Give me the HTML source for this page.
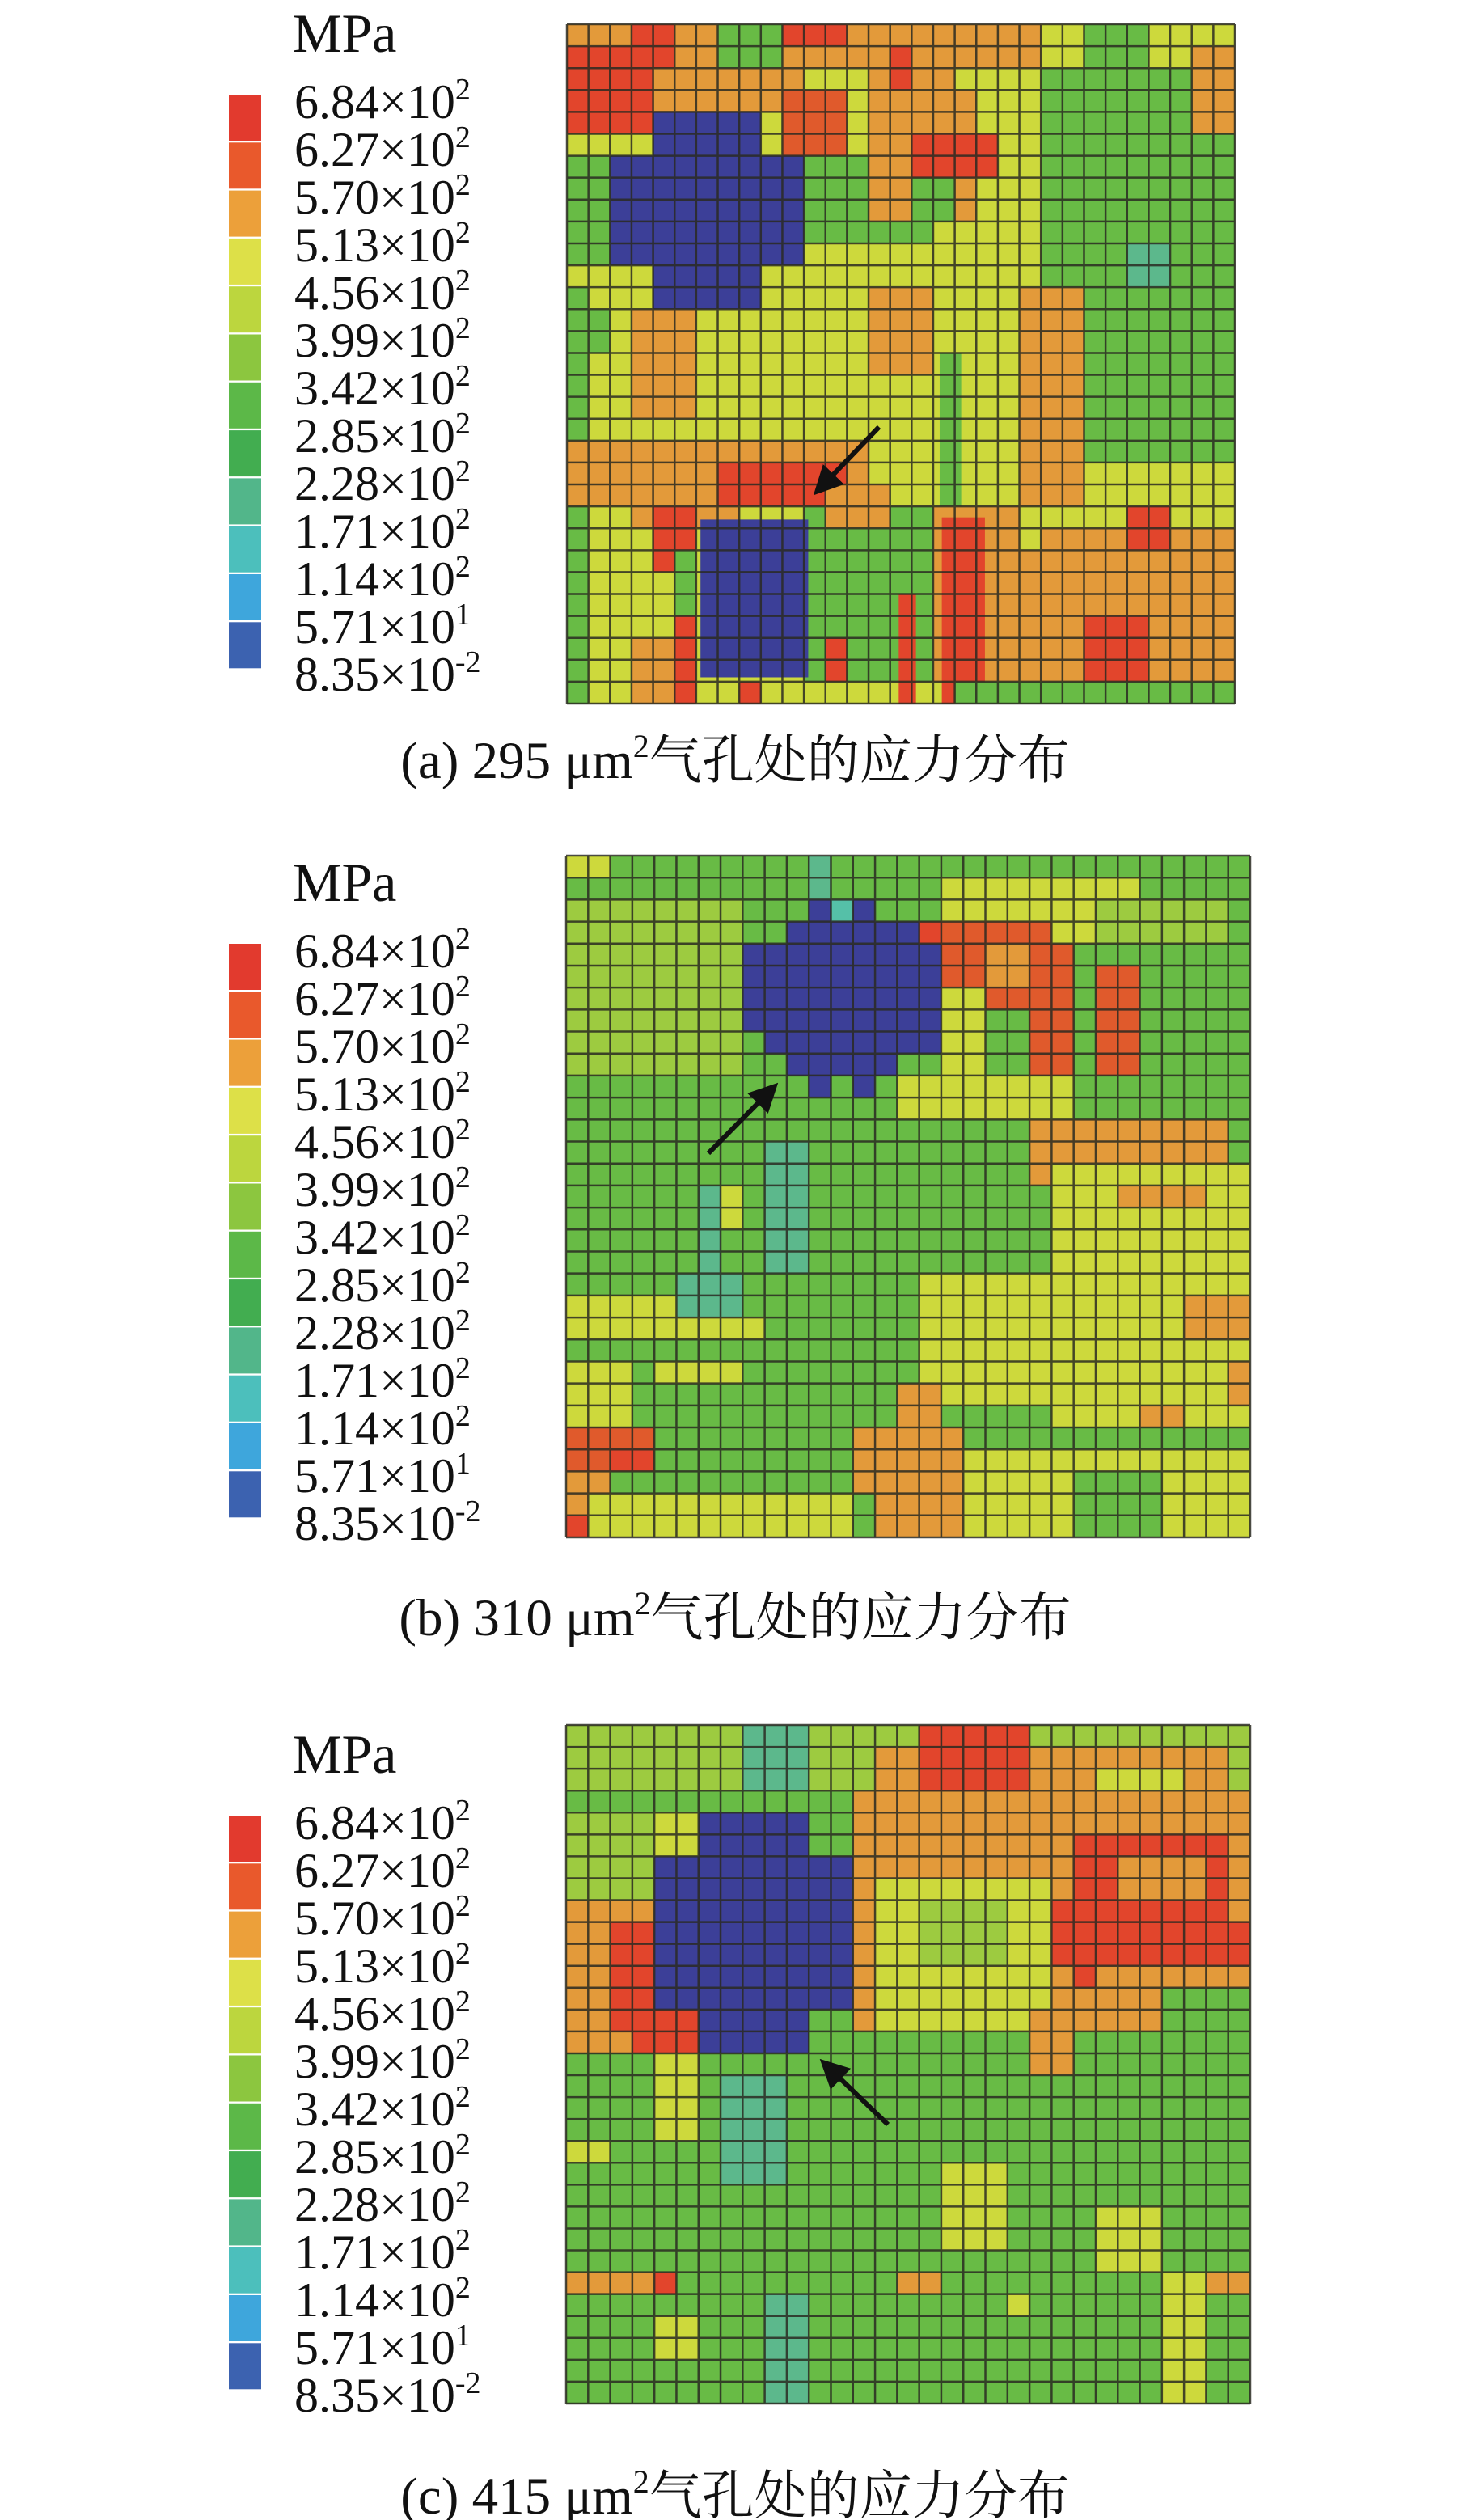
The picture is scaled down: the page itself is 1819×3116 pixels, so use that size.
<!DOCTYPE html>
<html><head><meta charset="utf-8">
<style>
html,body{margin:0;padding:0;background:#fff;}
body{width:1819px;height:3116px;position:relative;overflow:hidden;}
svg{position:absolute;left:0;top:0;}
text{font-family:"Liberation Serif","Noto Serif CJK SC",serif;fill:#111;}
</style></head><body>
<svg id="s" width="1819" height="3116" viewBox="0 0 1819 3116" xmlns="http://www.w3.org/2000/svg">
<defs><marker id="ah" markerWidth="6" markerHeight="6" refX="5" refY="3" orient="auto" markerUnits="strokeWidth"><path d="M0,0 L6,3 L0,6 z" fill="#111"/></marker></defs>
</svg>
<script>
var NS="http://www.w3.org/2000/svg",S=document.getElementById('s');
function el(t,a,p){var e=document.createElementNS(NS,t);for(var k in a)e.setAttribute(k,a[k]);(p||S).appendChild(e);return e;}
var R='#e2452c',RO='#e05a2c',O='#e39a3a',Y='#cdd93c',LG='#9dcb40',G='#68bb45',T='#5cb88c',B='#3c3f98',TT='#55c0a8';
var legCols=['#e23a2e','#e9592c','#eca03a','#dde048','#bcd63e','#8cc63f','#5cb848','#42ad50','#52b68a','#4cbfbc','#3ea6dc','#3c62b0','#3a3a92'];
var labels=['6.84×10','6.27×10','5.70×10','5.13×10','4.56×10','3.99×10','3.42×10','2.85×10','2.28×10','1.71×10','1.14×10','5.71×10','8.35×10'];
var exps=['2','2','2','2','2','2','2','2','2','2','2','1','-2'];
function legend(dy){
  var t=el('text',{x:362,y:64+dy,'font-size':68});t.textContent='MPa';
  for(var i=0;i<12;i++){el('rect',{x:283,y:117+dy+i*59.3,width:40,height:57,fill:legCols[i]});}
  for(var i=0;i<13;i++){
    var t=el('text',{x:364,y:146+dy+i*59,'font-size':60});
    t.appendChild(document.createTextNode(labels[i]));
    var ts=el('tspan',{dy:-23,'font-size':38},t);ts.textContent=exps[i];
  }
}
function caption(cy,txt,sup,rest){
  var t=el('text',{x:909,y:cy+22,'font-size':65,'text-anchor':'middle'});
  t.appendChild(document.createTextNode(txt));
  var ts=el('tspan',{dy:-26,'font-size':40},t);ts.textContent=sup;
  var ts2=el('tspan',{dy:26},t);ts2.textContent=rest;
}
function panel(x0,y0,w,h,n,base,rects,arrow){
  var cw=w/n,ch=h/n;
  el('rect',{x:x0,y:y0,width:w,height:h,fill:base});
  rects.forEach(function(r){el('rect',{x:x0+r[0]*cw,y:y0+r[1]*ch,width:r[2]*cw,height:r[3]*ch,fill:r[4]});});
  var d='';
  for(var i=0;i<=n;i++){d+='M'+(x0+i*cw)+' '+y0+'V'+(y0+h)+'M'+x0+' '+(y0+i*ch)+'H'+(x0+w);}
  el('path',{d:d,stroke:'#2a2a22','stroke-width':2.5,fill:'none','stroke-opacity':0.85});
  el('line',{x1:arrow[0],y1:arrow[1],x2:arrow[2],y2:arrow[3],stroke:'#111','stroke-width':6,'marker-end':'url(#ah)'});
}
/* panel a */
panel(701,30,826,840,31,Y,[
 [0,0,22,2,O],[3,0,2,2,R],[10,0,3,1,R],[0,1,4,4,R],[4,2,7,2,O],[10,3,3,3,RO],[14,1,4,2,O],[15,1,1,3,R],
 [7,0,3,2,G],[11,6,6,4,G],[14,3,5,6,O],[16,5,4,2,R],[16,7,2,2,G],[22,5,3,1,R],[23,4,1,3,R],
 [22,2,9,18,G],[24,0,3,2,G],[20,0,2,2,O],[29,1,2,4,O],[26,10,2,2,T],[21,12,3,10,O],
 [0,12,1,9,G],[0,6,2,5,G],[0,13,2,2,G],[3,13,3,5,O],[14,12,3,4,O],[17.3,15,1,8,G],
 [0,19,14,3,O],[3,20,5,3,O],[7,20,6,2,R],[4,22,2,3,R],[0,22,1,9,G],[5,24,1,4,G],
 [11,22,6,8,G],[12,21,3,2,O],[17,22,4,8,O],[17.4,22.5,2,8.5,R],[15.4,26,0.8,5,R],[20,24,6,6,O],[22,23,9,7,O],[26,22,2,2,R],[24,27,3,3,R],
 [8,30,1,1,R],[18,30,13,1,G],[3,28,3,3,O],[5,27,1,4,R],[12,28,1,2,R],
 [4,4,5,9,B],[2,6,9,5,B],[6.2,22.6,5,7.2,B]
],[1087,528,1010,608]);
legend(0);
caption(940,'(a) 295 μm','2','气孔处的应力分布');
/* panel b */
panel(700,1058,846,843,31,G,[
 [0,0,2,1,Y],[0,2,8,8,LG],[17,1,9,3,Y],[24,2,6,2,LG],
 [11,0,1,2,T],[11,2,1,1,B],[12,2,1,1,TT],[13,2,1,1,B],[10,3,6,1,B],[8,4,9,4,B],[9,8,8,1,B],[10,9,5,1,B],[11,10,1,1,B],[13,10,1,1,B],
 [16,3,1,1,R],[17,3,5,3,RO],[17,5,1,1,RO],[19,4,3,3,O],[21,4,2,6,RO],[19,6,3,1,RO],[24,5,2,5,RO],
 [17,6,2,4,Y],[15,10,8,2,Y],[22,12,2,1,R],[21,12,9,3,O],[22,14,9,12,Y],[25,15,4,1,O],[28,20,3,2,O],[30,23,1,2,O],[26,25,2,1,O],
 [6,15,1,7,T],[9,13,2,6,T],[5,19,3,2,T],[7,15,1,2,Y],
 [0,20,5,2,Y],[4,21,4,3,Y],[7,21,2,1,Y],[0,22,8,1,G],[0,23,3,3,Y],[16,19,9,6,Y],
 [15,24,2,3,O],[13,26,5,3,O],[14,29,4,2,O],[0,26,4,2,RO],[2,27,2,1,R],[0,28,2,2,O],[0,30,1,1,R],[1,29,12,2,Y],[18,27,13,4,Y],[23,28,4,3,G]
],[876,1426,958,1343]);
legend(1050);
caption(2000,'(b) 310 μm','2','气孔处的应力分布');
/* panel c */
panel(700,2133,846,839,31,G,[
 [0,0,31,3,LG],[8,0,3,3,T],[16,0,5,6,R],[14,1,2,5,O],[21,1,9,6,O],[24,2,4,2,Y],[13,3,18,3,O],
 [0,4,6,4,LG],[4,4,2,2,Y],[13,5,18,9,O],[14,7,8,7,Y],[16,8,4,3,LG],[23,5,6,1,R],[23,6,2,5,R],[22,8,8,3,R],[29,5,1,6,R],[30,9,1,2,R],[23,10,3,2,R],[26,12,5,2,G],[24,11,3,3,O],[21,13,2,3,O],
 [0,8,4,7,O],[2,9,2,5,R],[3,12,3,3,R],[4,15,2,1,R],[4,15,2,4,Y],
 [6,4,5,11,B],[4,6,9,7,B],
 [7,16,3,5,T],[9,26,2,5,T],[0,19,2,1,Y],[17,20,3,4,Y],[24,22,3,3,Y],[4,27,2,2,Y],[20,26,1,1,Y],[27,25,2,6,Y],
 [0,25,5,1,O],[4,25,1,1,R],[15,25,2,1,O],[29,25,2,1,O]
],[1098,2627,1018,2550]);
legend(2128);
caption(3086,'(c) 415 μm','2','气孔处的应力分布');
</script>
</body></html>
